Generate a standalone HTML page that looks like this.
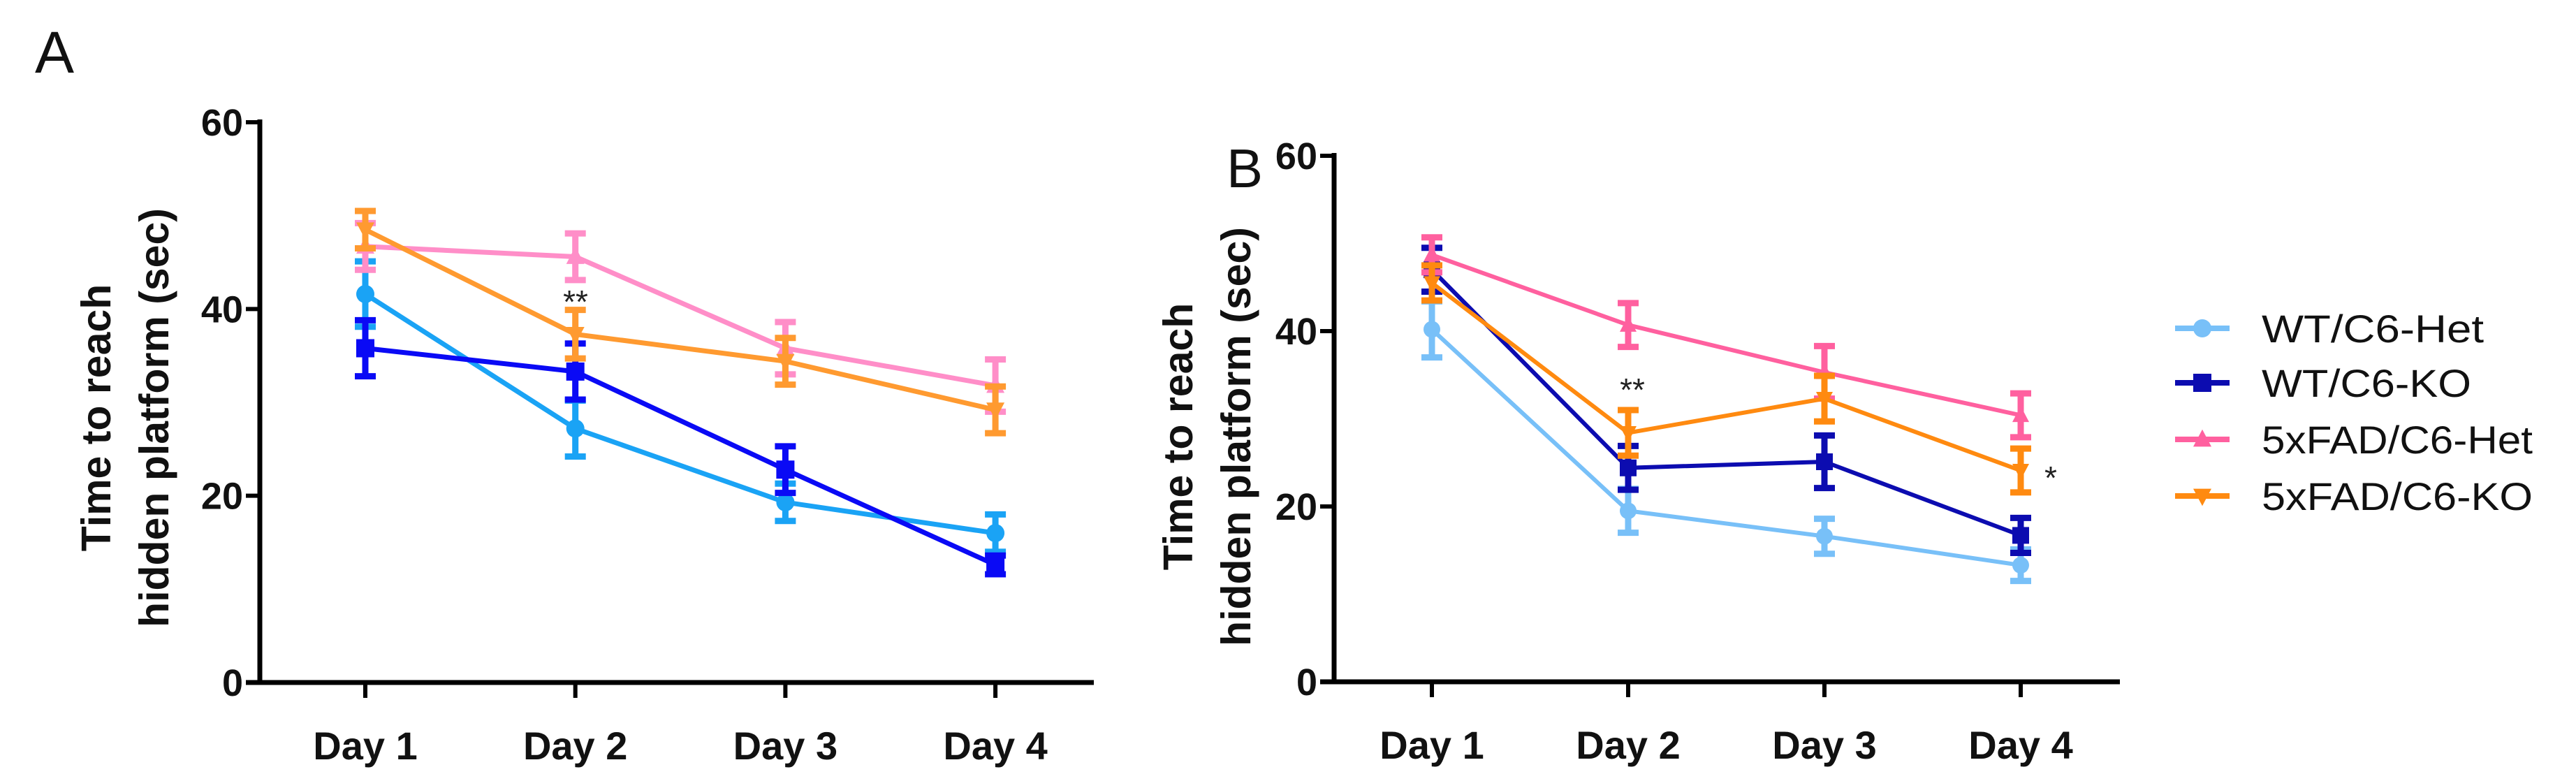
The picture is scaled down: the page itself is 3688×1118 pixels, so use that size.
<!DOCTYPE html>
<html><head><meta charset="utf-8"><style>
html,body{margin:0;padding:0;background:#fff;}
svg{display:block;font-family:"Liberation Sans",Arial,sans-serif;}
</style></head><body>
<svg id="fig" width="3688" height="1118" viewBox="0 0 3688 1118" xmlns="http://www.w3.org/2000/svg">
<rect width="3688" height="1118" fill="#fff"/>
<text x="50" y="104" font-size="84" fill="#111">A</text>
<text x="1756" y="268" font-size="78" fill="#111">B</text>
<g id="pa"></g>
<g id="pb"></g>
<g id="legend"></g>
</svg>
<script>
const categories = ["Day 1","Day 2","Day 3","Day 4"];
const yTicks = [0,20,40,60];
const seriesNames = ["WT/C6-Het","WT/C6-KO","5xFAD/C6-Het","5xFAD/C6-KO"];
// Panel A
const aWtHet = [41.6,27.2,19.3,16.0];
const aWtHetErr = [3.5,3.0,2.0,2.0];
const aWtKo = [35.8,33.3,22.8,12.6];
const aWtKoErr = [3.0,3.0,2.5,1.0];
const aFadHet = [46.7,45.6,35.8,31.8];
const aFadHetErr = [2.5,2.5,2.8,2.8];
const aFadKo = [48.5,37.3,34.4,29.2];
const aFadKoErr = [2.0,2.6,2.5,2.5];
// Panel B
const bWtHet = [40.2,19.5,16.6,13.3];
const bWtHetErr = [3.2,2.5,2.0,1.8];
const bWtKo = [47.0,24.4,25.1,16.7];
const bWtKoErr = [2.5,2.5,3.0,2.0];
const bFadHet = [48.7,40.7,35.3,30.4];
const bFadHetErr = [2.0,2.5,3.0,2.5];
const bFadKo = [45.5,28.4,32.3,24.1];
const bFadKoErr = [2.0,2.6,2.6,2.5];

const NS="http://www.w3.org/2000/svg";
function mk(tag,attrs,parent){const e=document.createElementNS(NS,tag);for(const k in attrs)e.setAttribute(k,attrs[k]);parent.appendChild(e);return e;}

function drawPanel(g,cfg){
  const yS=v=>cfg.y0-(cfg.y0-cfg.y60)*v/60;
  const xS=i=>cfg.xs0+i*cfg.dx;
  const ya=mk('line',{x1:cfg.ax,y1:cfg.y60-4,x2:cfg.ax,y2:cfg.y0+3,stroke:'#000','stroke-width':7},g);
  
  
  const xa=mk('line',{x1:cfg.ax-20,y1:cfg.y0,x2:cfg.xend,y2:cfg.y0,stroke:'#000','stroke-width':7},g);
  
  
  yTicks.forEach(t=>{
    mk('line',{x1:cfg.ax-20,y1:yS(t),x2:cfg.ax,y2:yS(t),stroke:'#000','stroke-width':6},g);
    const tx=mk('text',{x:cfg.ax-24,y:yS(t)+19,'text-anchor':'end','font-size':54,'font-weight':'bold',fill:'#111'},g);
    tx.textContent=t;
    
    
  });
  categories.forEach((c,i)=>{
    mk('line',{x1:xS(i),y1:cfg.y0,x2:xS(i),y2:cfg.y0+22,stroke:'#000','stroke-width':6},g);
    const tx=mk('text',{x:xS(i),y:cfg.y0+110,'text-anchor':'middle','font-size':56,'font-weight':'bold',fill:'#111'},g);
    tx.textContent=c;
    
    
  });
  const cy=cfg.ty;
  const t1=mk('text',{x:cfg.t1x,y:cy,transform:`rotate(-90 ${cfg.t1x} ${cy})`,'text-anchor':'middle','font-size':59,'font-weight':'bold',fill:'#111'},g);
  t1.textContent='Time to reach';
  
  
  const t2=mk('text',{x:cfg.t2x,y:cy,transform:`rotate(-90 ${cfg.t2x} ${cy})`,'text-anchor':'middle','font-size':59,'font-weight':'bold',fill:'#111'},g);
  t2.textContent='hidden platform (sec)';
  
  
  cfg.series.forEach((s,si)=>{
    const sg=mk('g',{},g);
    
    
    s.vals.forEach((v,i)=>{
      const x=xS(i),e=s.err[i];
      const eb=mk('path',{d:`M${x},${yS(v+e)}V${yS(v-e)}M${x-15},${yS(v+e)}h30M${x-15},${yS(v-e)}h30`,stroke:s.col,'stroke-width':9,fill:'none'},sg);
      
      
    });
    const ln=mk('polyline',{points:s.vals.map((v,i)=>xS(i)+','+yS(v)).join(' '),stroke:s.col,'stroke-width':cfg.lw,fill:'none'},sg);
    
    
    s.vals.forEach((v,i)=>{
      const m=marker(sg,s.mk,xS(i),yS(v),s.col,cfg.ms);
      
      
    });
  });
  cfg.notes.forEach(n=>{
    const tx=mk('text',{x:n.x,y:n.y,'text-anchor':'middle','font-size':46,fill:'#222'},g);
    tx.textContent=n.t;
    
    
  });
}
function marker(p,type,x,y,col,r){
  if(type==='circle')return mk('circle',{cx:x,cy:y,r:r,fill:col},p);
  if(type==='square')return mk('rect',{x:x-r,y:y-r,width:2*r,height:2*r,fill:col},p);
  if(type==='up')return mk('path',{d:`M${x},${y-r*1.1}L${x+r},${y+r*0.8}L${x-r},${y+r*0.8}Z`,fill:col},p);
  return mk('path',{d:`M${x},${y+r*1.1}L${x+r},${y-r*0.8}L${x-r},${y-r*0.8}Z`,fill:col},p);
}
const colA=['#1aa3f5','#0a0af5','#ff8ec8','#ff9a30'];
const colB=['#78c0f8','#0c0cb0','#ff609f','#ff8a10'];
drawPanel(document.getElementById('pa'),{ax:372,y60:175,y0:977,xs0:523,dx:300.7,xend:1566,t1x:158,t2x:241,ty:598,lw:7,ms:13,
  series:[{vals:aWtHet,err:aWtHetErr,col:colA[0],mk:'circle'},{vals:aWtKo,err:aWtKoErr,col:colA[1],mk:'square'},
          {vals:aFadHet,err:aFadHetErr,col:colA[2],mk:'up'},{vals:aFadKo,err:aFadKoErr,col:colA[3],mk:'down'}],
  notes:[{x:824,y:448,t:'**'}]});
drawPanel(document.getElementById('pb'),{ax:1910,y60:223,y0:976,xs0:2050,dx:281,xend:3035,t1x:1707,t2x:1790,ty:625,lw:6,ms:12,
  series:[{vals:bWtHet,err:bWtHetErr,col:colB[0],mk:'circle'},{vals:bWtKo,err:bWtKoErr,col:colB[1],mk:'square'},
          {vals:bFadHet,err:bFadHetErr,col:colB[2],mk:'up'},{vals:bFadKo,err:bFadKoErr,col:colB[3],mk:'down'}],
  notes:[{x:2337,y:574,t:'**'},{x:2936,y:700,t:'*'}]});
const lg=document.getElementById('legend');
const legendRows=[470,548,629,710];
const legendMk=['circle','square','up','down'];
seriesNames.forEach((n,i)=>{
  const eg=mk('g',{},lg);
  
  
  mk('line',{x1:3114,y1:legendRows[i],x2:3192,y2:legendRows[i],stroke:colB[i],'stroke-width':8},eg);
  marker(eg,legendMk[i],3153,legendRows[i],colB[i],13);
  const tx=mk('text',{x:3238,y:legendRows[i]+20,'font-size':56,fill:'#111',textLength:(n.length>9?388:(n==='WT/C6-KO'?300:318)),lengthAdjust:'spacingAndGlyphs'},eg);
  tx.textContent=n;
});
</script>
</body></html>
